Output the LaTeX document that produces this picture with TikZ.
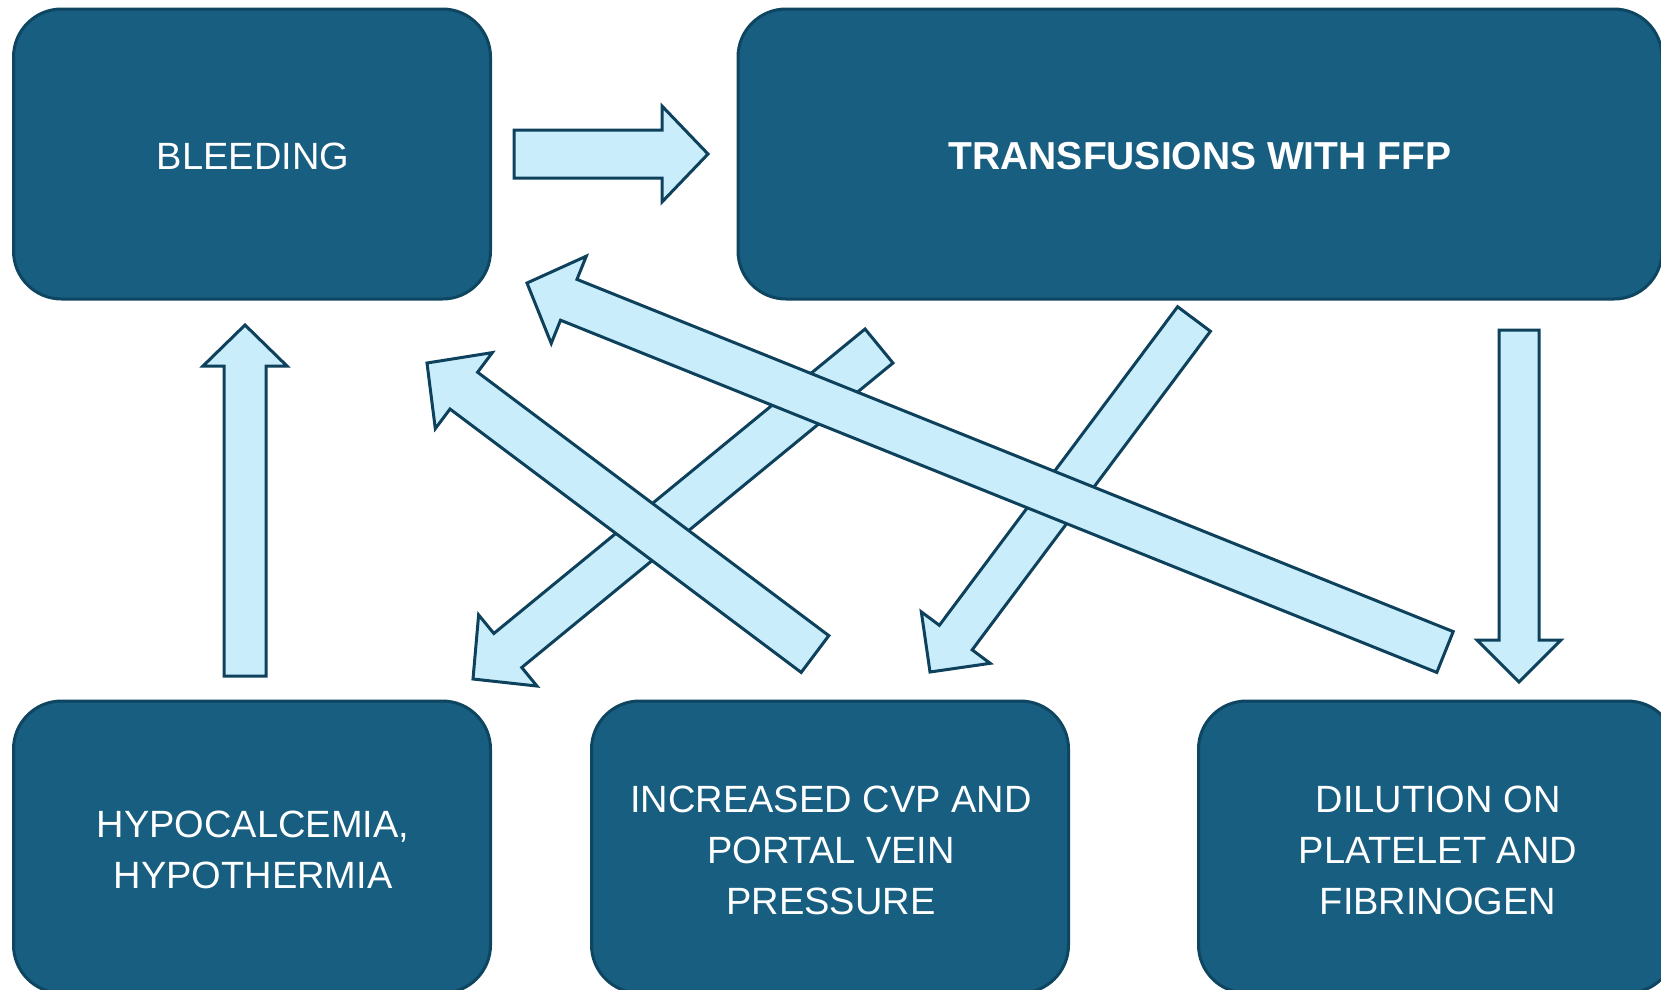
\documentclass[tikz,border=0pt]{standalone}
\usepackage{fontspec}
\setmainfont{Liberation Sans}
\usetikzlibrary{calc}
\definecolor{boxfill}{RGB}{23,94,128}
\definecolor{boxline}{RGB}{14,69,96}
\definecolor{arrfill}{RGB}{202,237,251}
\definecolor{arrline}{RGB}{14,65,92}
\tikzset{
  stepbox/.style={draw=boxline, fill=boxfill, line width=3pt, rounded corners=48pt,
    minimum width=477pt, minimum height=290pt, inner sep=0pt},
  steptext/.style={text=white, align=center, inner sep=0pt,
    font=\fontsize{38}{51}\selectfont},
  arrowbox/.style={draw=arrline, fill=arrfill, line width=3pt, line join=miter}
}
\newcommand{\blockarr}[5]{%
  \coordinate (ba-n) at ($(#2)!#5!(#1)$);
  \draw[arrowbox] ($(#1)!#3!90:(#2)$) -- ($(ba-n)!#3!-90:(#1)$) -- ($(ba-n)!#4!-90:(#1)$)
    -- (#2) -- ($(ba-n)!#4!90:(#1)$) -- ($(ba-n)!#3!90:(#1)$) -- ($(#1)!#3!-90:(#2)$) -- cycle;
}
\begin{document}
\begin{tikzpicture}[x=1pt,y=-1pt]
\useasboundingbox (0,0) rectangle (1661,989);
\clip (0,0) rectangle (1661,989);
% boxes
\node[stepbox] (bleed) at (252,154) {};
\node[stepbox, minimum width=924pt] (trans) at (1200,154) {};
\node[stepbox, minimum height=292pt] (hypo) at (252,847) {};
\node[stepbox, minimum height=292pt] (cvp) at (830,847) {};
\node[stepbox, minimum height=292pt] (dil) at (1437,847) {};
% texts
\node[steptext] (bleed-t) at ($(bleed.center)+(1,2)$) {BLEEDING};
\node[steptext, font=\fontsize{39}{51}\selectfont\bfseries] (trans-t) at ($(trans.center)+(0,2)$) {TRANSFUSIONS WITH FFP};
\node[steptext] (hypo-t) at ($(hypo.center)+(1,3)$) {HYPOCALCEMIA,\\HYPOTHERMIA};
\node[steptext] (cvp-t) at ($(cvp.center)+(1,3)$) {INCREASED CVP AND\\PORTAL VEIN\\PRESSURE};
\node[steptext] (dil-t) at ($(dil.center)+(1,3)$) {DILUTION ON\\PLATELET AND\\FIBRINOGEN};
% arrow end points
\coordinate (a1s) at (514,154);
\coordinate (a1e) at (708,154);
\coordinate (a2s) at (245,676);
\coordinate (a2e) at (245,325);
\coordinate (a3s) at (1519,330);
\coordinate (a3e) at (1519,682);
\coordinate (a4s) at (879,346);
\coordinate (a4e) at (473,679);
\coordinate (a5s) at (815,654);
\coordinate (a5e) at (427,363);
\coordinate (a6s) at (1445,652);
\coordinate (a6e) at (527,283);
\coordinate (a7s) at (1194,319);
\coordinate (a7e) at (930,672);
% arrows
\blockarr{a1s}{a1e}{24pt}{48pt}{46pt}
\blockarr{a2s}{a2e}{21pt}{42pt}{41pt}
\blockarr{a3s}{a3e}{20pt}{42pt}{42pt}
\blockarr{a4s}{a4e}{22pt}{46pt}{45pt}
\blockarr{a7s}{a7e}{20.5pt}{43pt}{43pt}
\blockarr{a5s}{a5e}{23pt}{47.5pt}{46pt}
\blockarr{a6s}{a6e}{22pt}{47pt}{45pt}
\end{tikzpicture}
\end{document}
